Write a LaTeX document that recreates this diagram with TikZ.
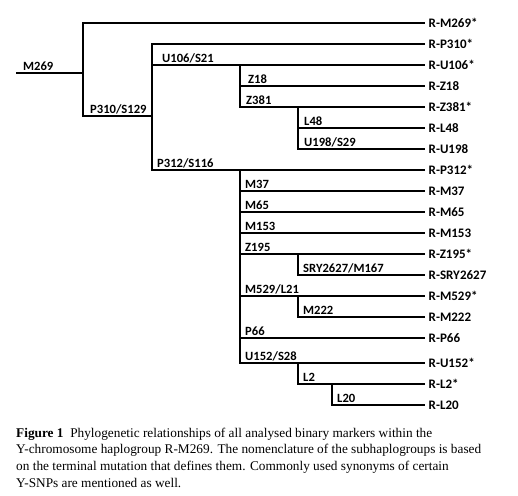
\documentclass[tikz,border=0pt]{standalone}
\usepackage{fontspec}
\setmainfont{Liberation Serif}
\newfontfamily\treefont{Carlito}
\begin{document}
\begin{tikzpicture}[x=1pt,y=-1pt,
  edge/.style={line width=1.8pt, line cap=rect},
  leaf/.style={anchor=west, inner xsep=4.5pt, inner ysep=0pt, font=\treefont\bfseries\fontsize{13}{15}\selectfont},
  blab/.style={anchor=south west, inner sep=0pt, yshift=2pt, font=\treefont\bfseries\fontsize{12.6}{15}\selectfont},
  captext/.style={anchor=base west, inner sep=0pt, font=\fontsize{13.3}{16}\selectfont}]
\useasboundingbox (0,0) rectangle (518,495);
% branch coordinates
\coordinate (root) at (17,73);
\coordinate (a) at (83,73);
\coordinate (a1) at (83,23);
\coordinate (a2) at (83,116);
\coordinate (b2) at (152,116);
\coordinate (b1) at (152,44);
\coordinate (b3) at (152,65);
\coordinate (b4) at (152,170);
\coordinate (c1) at (240,65);
\coordinate (c2) at (240,86);
\coordinate (c3) at (240,107);
\coordinate (d1) at (298,107);
\coordinate (d2) at (298,128);
\coordinate (d3) at (298,149);
\coordinate (e0) at (240,170);
\coordinate (e1) at (240,191);
\coordinate (e2) at (240,212);
\coordinate (e3) at (240,233);
\coordinate (e4) at (240,254);
\coordinate (e5) at (240,296);
\coordinate (e6) at (240,338);
\coordinate (e7) at (240,363);
\coordinate (f1) at (298,254);
\coordinate (f2) at (298,275);
\coordinate (g1) at (298,296);
\coordinate (g2) at (298,317);
\coordinate (h1) at (298,363);
\coordinate (h2) at (298,384);
\coordinate (k1) at (332,384);
\coordinate (k2) at (332,405);
% leaves
\node[leaf] (lM269) at (424,23) {R-M269*};
\node[leaf] (lP310) at (424,44) {R-P310*};
\node[leaf] (lU106) at (424,65) {R-U106*};
\node[leaf] (lZ18) at (424,86) {R-Z18};
\node[leaf] (lZ381) at (424,107) {R-Z381*};
\node[leaf] (lL48) at (424,128) {R-L48};
\node[leaf] (lU198) at (424,149) {R-U198};
\node[leaf] (lP312) at (424,170) {R-P312*};
\node[leaf] (lM37) at (424,191) {R-M37};
\node[leaf] (lM65) at (424,212) {R-M65};
\node[leaf] (lM153) at (424,233) {R-M153};
\node[leaf] (lZ195) at (424,254) {R-Z195*};
\node[leaf] (lSRY) at (424,275) {R-SRY2627};
\node[leaf] (lM529) at (424,296) {R-M529*};
\node[leaf] (lM222) at (424,317) {R-M222};
\node[leaf] (lP66) at (424,338) {R-P66};
\node[leaf] (lU152) at (424,363) {R-U152*};
\node[leaf] (lL2) at (424,384) {R-L2*};
\node[leaf] (lL20) at (424,405) {R-L20};
% edges
\draw[edge] (root) -- (a);
\draw[edge] (a1) -- (a2);
\draw[edge] (a1) -- (lM269.west);
\draw[edge] (a2) -- (b2);
\draw[edge] (b1) -- (b4);
\draw[edge] (b1) -- (lP310.west);
\draw[edge] (b3) -- (lU106.west);
\draw[edge] (c1) -- (c3);
\draw[edge] (c2) -- (lZ18.west);
\draw[edge] (c3) -- (lZ381.west);
\draw[edge] (d1) -- (d3);
\draw[edge] (d2) -- (lL48.west);
\draw[edge] (d3) -- (lU198.west);
\draw[edge] (b4) -- (lP312.west);
\draw[edge] (e0) -- (e7);
\draw[edge] (e1) -- (lM37.west);
\draw[edge] (e2) -- (lM65.west);
\draw[edge] (e3) -- (lM153.west);
\draw[edge] (e4) -- (lZ195.west);
\draw[edge] (f1) -- (f2);
\draw[edge] (f2) -- (lSRY.west);
\draw[edge] (e5) -- (lM529.west);
\draw[edge] (g1) -- (g2);
\draw[edge] (g2) -- (lM222.west);
\draw[edge] (e6) -- (lP66.west);
\draw[edge] (e7) -- (lU152.west);
\draw[edge] (h1) -- (h2);
\draw[edge] (h2) -- (lL2.west);
\draw[edge] (k1) -- (k2);
\draw[edge] (k2) -- (lL20.west);
% branch labels
\node[blab] (tM269) at (23,73) {M269};
\node[blab] (tP310) at (90,116) {P310/S129};
\node[blab] (tU106) at (162,65) {U106/S21};
\node[blab] (tP312) at (157,170) {P312/S116};
\node[blab] (tZ18) at (248,86) {Z18};
\node[blab] (tZ381) at (246,107) {Z381};
\node[blab] (tL48) at (304,128) {L48};
\node[blab] (tU198) at (304,149) {U198/S29};
\node[blab] (tM37) at (245,191) {M37};
\node[blab] (tM65) at (245,212) {M65};
\node[blab] (tM153) at (245,233) {M153};
\node[blab] (tZ195) at (245,254) {Z195};
\node[blab] (tSRY) at (303,275) {SRY2627/M167};
\node[blab] (tM529) at (245,296) {M529/L21};
\node[blab] (tM222) at (303,317) {M222};
\node[blab] (tP66) at (245,338) {P66};
\node[blab] (tU152) at (245,363) {U152/S28};
\node[blab] (tL2) at (303,384) {L2};
\node[blab] (tL20) at (337,405) {L20};
% caption
\node[captext] (cap1) at (16,437) {\textbf{Figure 1}\enspace Phylogenetic relationships of all analysed binary markers within the};
\node[captext] (cap2) at (16,453.7) {Y-chromosome haplogroup R-M269. The nomenclature of the subhaplogroups is based};
\node[captext] (cap3) at (16,470.4) {on the terminal mutation that defines them. Commonly used synonyms of certain};
\node[captext] (cap4) at (16,487) {Y-SNPs are mentioned as well.};
\end{tikzpicture}
\end{document}
